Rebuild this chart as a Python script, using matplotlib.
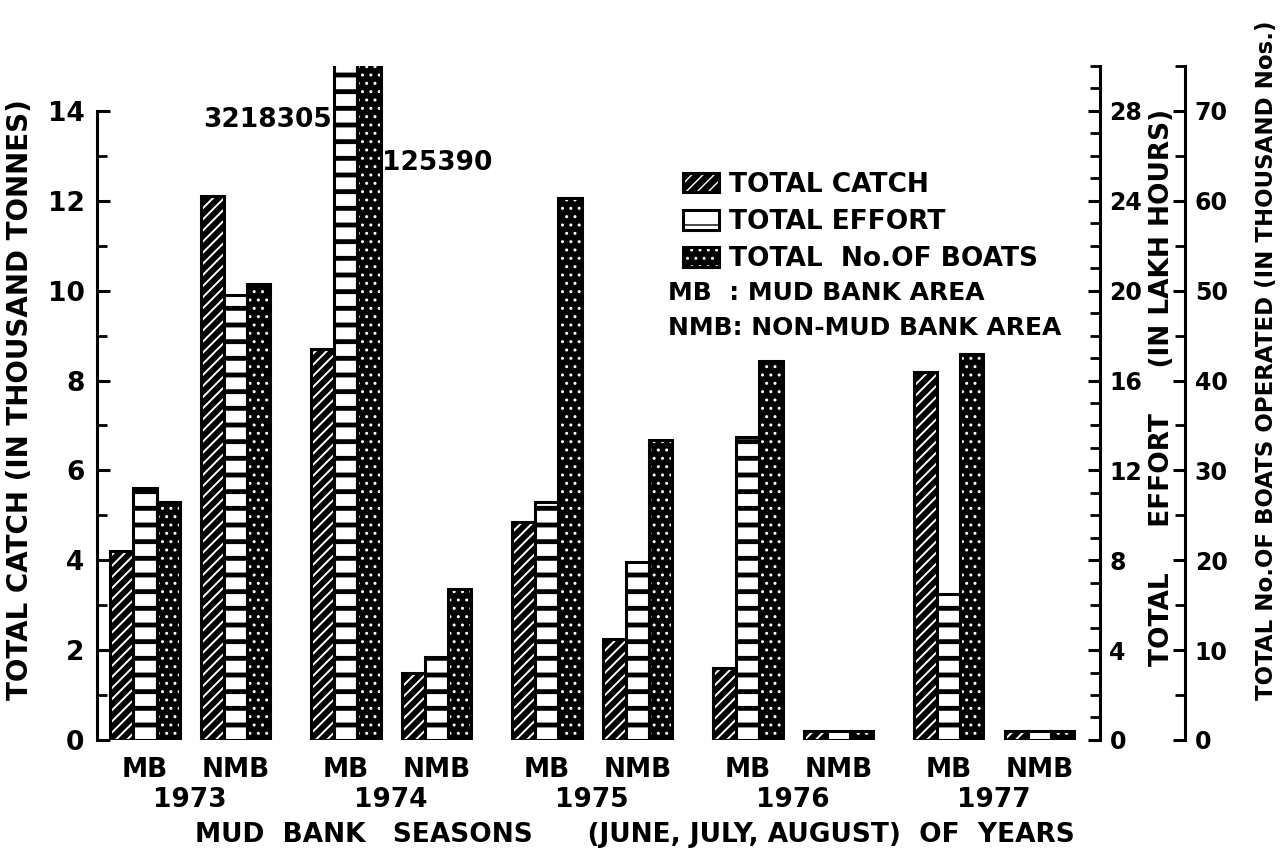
import numpy as np
import matplotlib
matplotlib.use('Agg')
import matplotlib.pyplot as plt
from matplotlib.patches import Patch
from matplotlib.ticker import FixedLocator
import matplotlib.transforms as mtransforms

# mud bank seasons, each year split into mud bank (MB) / non-mud bank (NMB) area
years = ['1973', '1974', '1975', '1976', '1977']
areas = ['MB', 'NMB']

# order: 1973 MB, 1973 NMB, 1974 MB, 1974 NMB, ...
catch = [4.2, 12.1, 8.7, 1.5, 4.85, 2.25, 1.6, 0.2, 8.2, 0.2]            # thousand tonnes
effort = [11.2, 19.8, 32.18305, 3.7, 10.6, 7.9, 13.5, 0.4, 6.5, 0.4]      # lakh hours
boats = [26.5, 50.7, 125.39, 16.8, 60.3, 33.4, 42.2, 1.0, 42.9, 1.0]      # thousand nos.

# off-scale bars get their value printed beside them
effort_note = '3218305'
boats_note = '125390'

plt.rcParams['font.family'] = 'DejaVu Sans'
plt.rcParams['font.weight'] = 'bold'
FS = 19
TICK_FS = 17

fig = plt.figure(figsize=(12.84, 8.52), dpi=100)
ax = fig.add_axes([0.0755, 0.1315, 0.781, 0.791])
ax2 = ax.twinx()
ax3 = ax.twinx()

ax.set_xlim(-0.239, 4.751)
ax.set_ylim(0, 15)
ax2.set_ylim(0, 30)
ax3.set_ylim(0, 75)

pos = np.array([i + j * 0.45 for i in range(len(years)) for j in range(len(areas))])
w = 0.115

# catch: black with white diagonal strokes
plt.rcParams['hatch.linewidth'] = 1.4
ax.bar(pos - w, catch, w, color='black', edgecolor='white', hatch='///', linewidth=0.1)
ax.bar(pos - w, catch, w, fill=False, edgecolor='black', linewidth=2.2)

# effort: white with horizontal bars
plt.rcParams['hatch.linewidth'] = 3.5
ax2.bar(pos, effort, w, color='white', edgecolor='black', hatch='-', linewidth=2.2)

# boats: black speckled
plt.rcParams['hatch.linewidth'] = 1.0
ax3.bar(pos + w, boats, w, color='black', edgecolor='white', hatch='..', linewidth=0.1)
ax3.bar(pos + w, boats, w, fill=False, edgecolor='black', linewidth=2.2)

# notes for the two bars running off the top
i74 = 2
ax.text(pos[i74] - w / 2 - 0.012, 13.8, effort_note, ha='right', va='center', fontsize=FS)
ax.text(pos[i74] + 1.5 * w + 0.005, 12.85, boats_note, ha='left', va='center', fontsize=FS)

# spines
for a in (ax, ax2, ax3):
    a.spines['top'].set_visible(False)
    a.spines['bottom'].set_visible(False)
ax.spines['right'].set_visible(False)
for a in (ax2, ax3):
    a.spines['left'].set_visible(False)
ax.spines['left'].set_bounds(0, 14)
ax.spines['left'].set_linewidth(2.2)
ax2.spines['right'].set_bounds(0, 30)
ax2.spines['right'].set_linewidth(2.2)
ax3.spines['right'].set_position(('axes', 1.085))
ax3.spines['right'].set_bounds(0, 75)
ax3.spines['right'].set_linewidth(2.2)

# y ticks
ax.yaxis.set_major_locator(FixedLocator(range(0, 15, 2)))
ax.yaxis.set_minor_locator(FixedLocator(range(0, 15)))
ax2.yaxis.set_major_locator(FixedLocator(range(0, 29, 4)))
ax2.yaxis.set_minor_locator(FixedLocator(range(0, 31)))
ax3.yaxis.set_major_locator(FixedLocator(range(0, 71, 10)))
ax3.yaxis.set_minor_locator(FixedLocator(range(0, 76, 5)))
for a in (ax, ax2, ax3):
    a.tick_params(axis='y', which='major', direction='in', length=9, width=2.2,
                  labelsize=TICK_FS, pad=7)
    a.tick_params(axis='y', which='minor', direction='in', length=7, width=2)
ax.tick_params(axis='y', labelsize=FS, pad=9)

# x ticks: MB / NMB under each group, years below
ax.set_xticks(pos, areas * len(years))
ax.tick_params(axis='x', length=0, labelsize=FS, pad=12)
trans = mtransforms.blended_transform_factory(ax.transData, ax.transAxes)
for i, yr in enumerate(years):
    ax.text(i + 0.225, -0.089, yr, transform=trans, ha='center', va='center', fontsize=FS)

fig.text(635 / 1284, 1 - 835 / 852,
         'MUD  BANK   SEASONS      (JUNE, JULY, AUGUST)  OF  YEARS',
         ha='center', va='center', fontsize=FS)

# axis titles
fig.text(20 / 1284, 1 - 400 / 852, 'TOTAL CATCH (IN THOUSAND TONNES)',
         rotation=90, ha='center', va='center', fontsize=20)
fig.text(1162 / 1284, 1 - 387 / 852, 'TOTAL     EFFORT     (IN LAKH HOURS)',
         rotation=90, ha='center', va='center', fontsize=FS)
fig.text(1267 / 1284, 1 - 360 / 852, 'TOTAL No.OF BOATS OPERATED (IN THOUSAND Nos.)',
         rotation=90, ha='center', va='center', fontsize=16.5)

# legend
h_catch = (Patch(facecolor='black', edgecolor='white', hatch='///', linewidth=0.1),
           Patch(fill=False, edgecolor='black', linewidth=2.2))
h_effort = Patch(facecolor='white', edgecolor='black', hatch='-', linewidth=2.2)
h_boats = (Patch(facecolor='black', edgecolor='white', hatch='..', linewidth=0.1),
           Patch(fill=False, edgecolor='black', linewidth=2.2))
ax3.legend([h_catch, h_effort, h_boats],
           ['TOTAL CATCH', 'TOTAL EFFORT', 'TOTAL  No.OF BOATS'],
           loc='upper left', bbox_to_anchor=(683 / 1284, 1 - 172 / 852),
           bbox_transform=fig.transFigure, frameon=False, fontsize=FS,
           handlelength=1.35, handleheight=0.75, handletextpad=0.4,
           labelspacing=0.42, borderpad=0, borderaxespad=0)
fig.text(668 / 1284, 1 - 293 / 852, 'MB  : MUD BANK AREA', ha='left', va='center', fontsize=18)
fig.text(668 / 1284, 1 - 328 / 852, 'NMB: NON-MUD BANK AREA', ha='left', va='center', fontsize=18)

fig.savefig('out.png', dpi=100)
